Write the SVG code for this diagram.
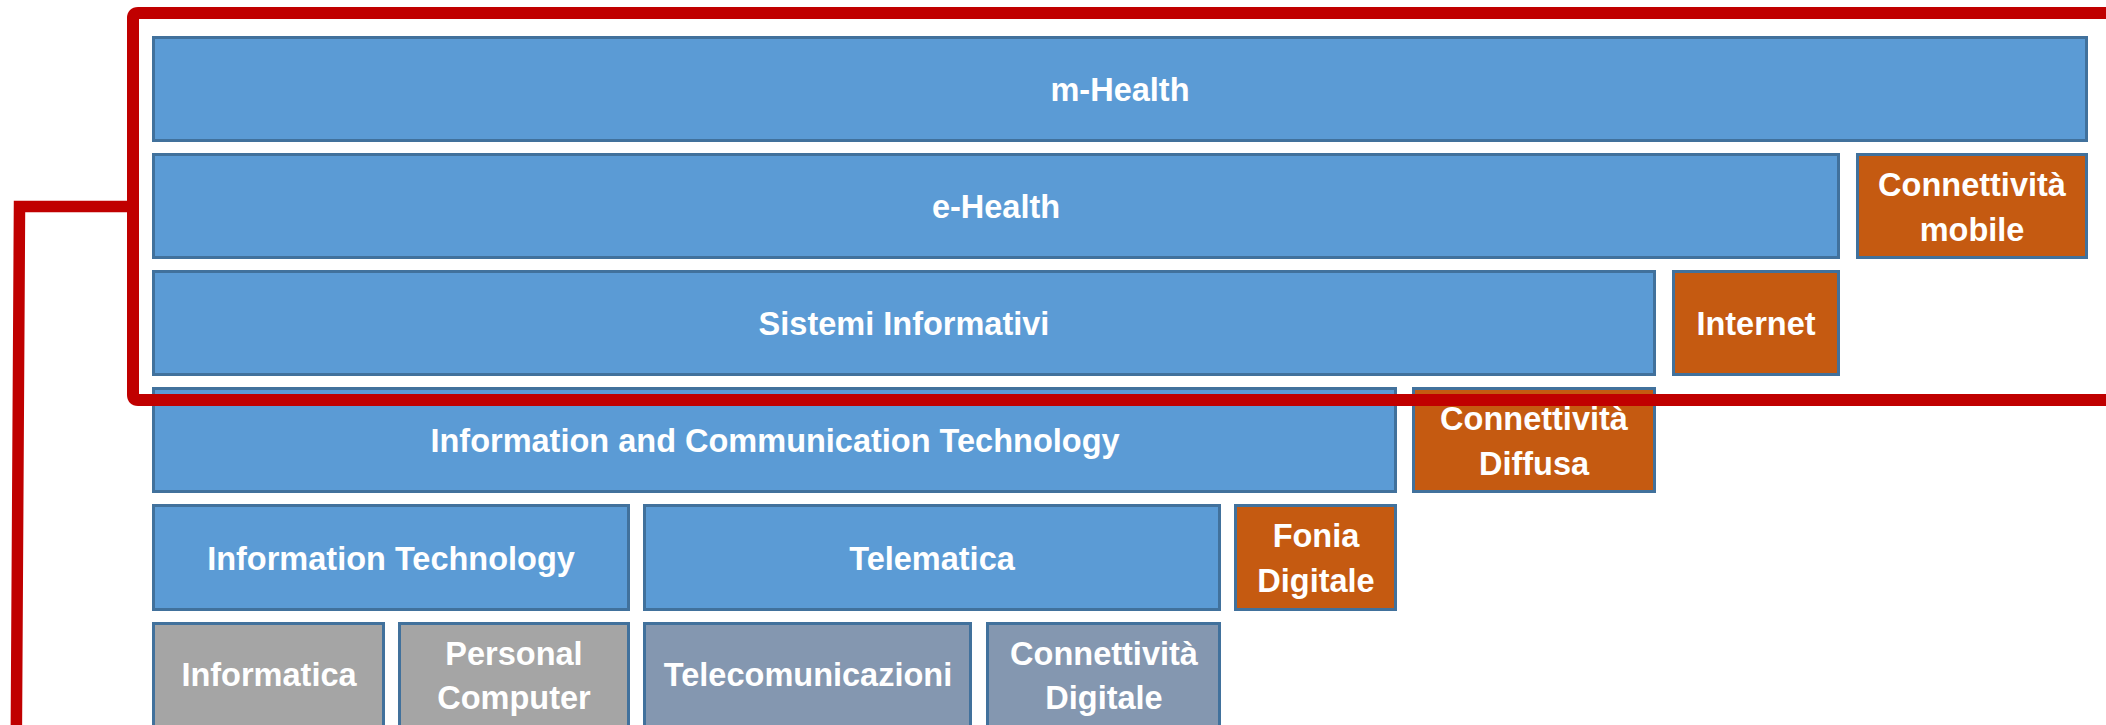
<svg xmlns="http://www.w3.org/2000/svg" width="2106" height="725" viewBox="0 0 2106 725">
<style>
.b rect{stroke:#41719C;stroke-width:3}
.blue rect{fill:#5B9BD5}
.orange rect{fill:#C55A11}
.gray rect{fill:#A5A5A5}
.slate rect{fill:#8497B0}
text{font-family:"Liberation Sans",Arial,sans-serif;font-weight:bold;font-size:32.5px;fill:#FFFFFF;text-anchor:middle}
.red{fill:none;stroke:#C00000;stroke-width:12}
</style>
<rect width="2106" height="725" fill="#FFFFFF"/>
<g id="m-health" class="b blue"><rect x="153.5" y="37.5" width="1933" height="103"/><text x="1120" y="101">m-Health</text></g>
<g id="e-health" class="b blue"><rect x="153.5" y="154.5" width="1685" height="103"/><text x="996" y="218">e-Health</text></g>
<g id="connettivita-mobile" class="b orange"><rect x="1857.5" y="154.5" width="229" height="103"/><text x="1972" y="196">Connettività</text><text x="1972" y="241">mobile</text></g>
<g id="sistemi-informativi" class="b blue"><rect x="153.5" y="271.5" width="1501" height="103"/><text x="904" y="335">Sistemi Informativi</text></g>
<g id="internet" class="b orange"><rect x="1673.5" y="271.5" width="165" height="103"/><text x="1756" y="335">Internet</text></g>
<g id="ict" class="b blue"><rect x="153.5" y="388.5" width="1242" height="103"/><text x="775" y="452">Information and Communication Technology</text></g>
<g id="connettivita-diffusa" class="b orange"><rect x="1413.5" y="388.5" width="241" height="103"/><text x="1534" y="430">Connettività</text><text x="1534" y="475">Diffusa</text></g>
<g id="information-technology" class="b blue"><rect x="153.5" y="505.5" width="475" height="104"/><text x="391" y="570">Information Technology</text></g>
<g id="telematica" class="b blue"><rect x="644.5" y="505.5" width="575" height="104"/><text x="932" y="570">Telematica</text></g>
<g id="fonia-digitale" class="b orange"><rect x="1235.5" y="505.5" width="160" height="104"/><text x="1316" y="547">Fonia</text><text x="1316" y="592">Digitale</text></g>
<g id="informatica" class="b gray"><rect x="153.5" y="623.5" width="230" height="103"/><text x="269" y="686">Informatica</text></g>
<g id="personal-computer" class="b gray"><rect x="399.5" y="623.5" width="229" height="103"/><text x="514" y="665">Personal</text><text x="514" y="709">Computer</text></g>
<g id="telecomunicazioni" class="b slate"><rect x="644.5" y="623.5" width="326" height="103"/><text x="808" y="686">Telecomunicazioni</text></g>
<g id="connettivita-digitale" class="b slate"><rect x="987.5" y="623.5" width="232" height="103"/><text x="1104" y="665">Connettività</text><text x="1104" y="709">Digitale</text></g>
<g id="callout"><path class="red" d="M2130 13 H138 Q133 13 133 18 V395 Q133 400 138 400 H2130"/></g>
<g id="connectors"><path class="red" style="stroke-width:11.5;stroke-linejoin:miter" d="M133 206.5 H19.5 L16.3 740"/></g>
</svg>
